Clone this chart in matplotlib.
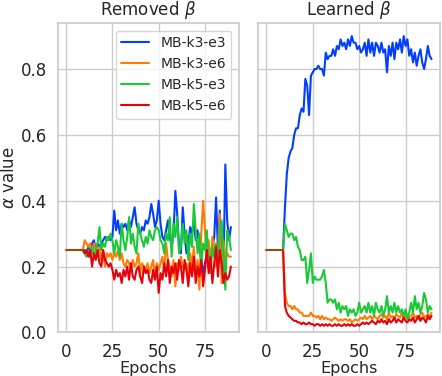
import numpy as np
import matplotlib
matplotlib.use("Agg")
import matplotlib.pyplot as plt
import seaborn as sns

sns.set_theme(style="whitegrid")
plt.rcParams['font.family'] = ['DejaVu Sans']

names = ["MB-k3-e3", "MB-k3-e6", "MB-k5-e3", "MB-k5-e6"]
colors = ["#023eff", "#ff7c00", "#1ac938", "#e8000b"]
warmup_color = "#9f4800"

# warm-up epochs 0..9, every alpha fixed at 0.25
warmup = [0.25] * 10
start_epoch = 9

# ---- Removed beta (epochs 9..89)
removed_k3e3 = [0.25, 0.25, 0.24, 0.26, 0.23, 0.27, 0.28, 0.25, 0.27, 0.26, 0.27, 0.28, 0.29, 0.28, 0.29, 0.28,
                0.29, 0.37, 0.31, 0.34, 0.30, 0.33, 0.32, 0.33, 0.31, 0.34, 0.32, 0.35, 0.38, 0.33, 0.31, 0.30,
                0.32, 0.31, 0.34, 0.33, 0.35, 0.39, 0.36, 0.32, 0.34, 0.40, 0.33, 0.29, 0.28, 0.31, 0.34, 0.29,
                0.26, 0.30, 0.43, 0.36, 0.26, 0.24, 0.38, 0.30, 0.24, 0.27, 0.32, 0.30, 0.34, 0.28, 0.31, 0.26,
                0.22, 0.18, 0.21, 0.24, 0.27, 0.22, 0.26, 0.29, 0.41, 0.25, 0.37, 0.22, 0.19, 0.51, 0.34, 0.28,
                0.32]
removed_k3e6 = [0.25, 0.28, 0.27, 0.26, 0.27, 0.24, 0.27, 0.25, 0.24, 0.26, 0.22, 0.25, 0.20, 0.24, 0.23, 0.24,
                0.22, 0.24, 0.23, 0.25, 0.22, 0.24, 0.21, 0.20, 0.22, 0.21, 0.19, 0.22, 0.20, 0.21, 0.24, 0.18,
                0.21, 0.20, 0.19, 0.21, 0.18, 0.20, 0.22, 0.17, 0.21, 0.19, 0.21, 0.23, 0.19, 0.27, 0.22, 0.20,
                0.17, 0.22, 0.14, 0.21, 0.19, 0.23, 0.20, 0.19, 0.21, 0.18, 0.24, 0.20, 0.26, 0.17, 0.22, 0.13,
                0.30, 0.40, 0.31, 0.22, 0.28, 0.19, 0.29, 0.26, 0.20, 0.24, 0.36, 0.15, 0.28, 0.22, 0.24, 0.23,
                0.23]
removed_k5e3 = [0.25, 0.24, 0.23, 0.25, 0.24, 0.26, 0.23, 0.25, 0.27, 0.32, 0.25, 0.27, 0.26, 0.29, 0.28, 0.30,
                0.28, 0.24, 0.28, 0.26, 0.23, 0.33, 0.28, 0.25, 0.29, 0.35, 0.27, 0.30, 0.26, 0.24, 0.33, 0.30,
                0.28, 0.26, 0.29, 0.27, 0.31, 0.29, 0.28, 0.31, 0.32, 0.31, 0.28, 0.27, 0.24, 0.30, 0.28, 0.35,
                0.23, 0.33, 0.29, 0.35, 0.24, 0.26, 0.33, 0.27, 0.31, 0.22, 0.30, 0.26, 0.39, 0.31, 0.24, 0.30,
                0.20, 0.27, 0.25, 0.31, 0.21, 0.18, 0.26, 0.23, 0.27, 0.20, 0.32, 0.34, 0.23, 0.13, 0.31, 0.29,
                0.25]
removed_k5e6 = [0.25, 0.24, 0.25, 0.23, 0.25, 0.20, 0.24, 0.22, 0.25, 0.21, 0.20, 0.25, 0.22, 0.21, 0.20, 0.21,
                0.19, 0.16, 0.19, 0.17, 0.18, 0.15, 0.19, 0.17, 0.20, 0.16, 0.21, 0.17, 0.16, 0.19, 0.20, 0.17,
                0.15, 0.20, 0.18, 0.19, 0.16, 0.15, 0.19, 0.16, 0.20, 0.12, 0.18, 0.16, 0.21, 0.17, 0.22, 0.15,
                0.20, 0.18, 0.21, 0.16, 0.22, 0.20, 0.15, 0.22, 0.19, 0.14, 0.21, 0.17, 0.23, 0.15, 0.20, 0.17,
                0.22, 0.14, 0.19, 0.25, 0.18, 0.23, 0.15, 0.21, 0.26, 0.17, 0.25, 0.21, 0.15, 0.18, 0.16, 0.17,
                0.20]

# ---- Learned beta (epochs 9..89)
learned_k3e3 = [0.25, 0.38, 0.48, 0.53, 0.55, 0.56, 0.60, 0.62, 0.62, 0.66, 0.68, 0.67, 0.77, 0.75, 0.66, 0.78,
                0.79, 0.80, 0.80, 0.81, 0.80, 0.80, 0.78, 0.85, 0.83, 0.84, 0.84, 0.86, 0.84, 0.87, 0.86, 0.89,
                0.87, 0.88, 0.86, 0.89, 0.87, 0.90, 0.88, 0.88, 0.86, 0.87, 0.85, 0.86, 0.88, 0.84, 0.89, 0.85,
                0.88, 0.84, 0.88, 0.87, 0.85, 0.88, 0.85, 0.86, 0.79, 0.87, 0.84, 0.88, 0.83, 0.88, 0.86, 0.89,
                0.85, 0.90, 0.87, 0.89, 0.84, 0.86, 0.82, 0.85, 0.81, 0.84, 0.86, 0.82, 0.80, 0.83, 0.87, 0.84,
                0.83]
learned_k3e6 = [0.25, 0.12, 0.09, 0.08, 0.08, 0.07, 0.08, 0.07, 0.07, 0.06, 0.06, 0.05, 0.05, 0.05, 0.05, 0.06,
                0.05, 0.05, 0.045, 0.05, 0.04, 0.05, 0.04, 0.045, 0.04, 0.04, 0.035, 0.04, 0.045, 0.04, 0.035, 0.04,
                0.035, 0.04, 0.04, 0.035, 0.04, 0.03, 0.035, 0.04, 0.035, 0.04, 0.045, 0.04, 0.05, 0.04, 0.045, 0.05,
                0.04, 0.05, 0.045, 0.04, 0.05, 0.055, 0.045, 0.05, 0.04, 0.06, 0.045, 0.05, 0.04, 0.055, 0.05, 0.045,
                0.06, 0.04, 0.05, 0.055, 0.045, 0.05, 0.06, 0.045, 0.05, 0.04, 0.055, 0.06, 0.045, 0.05, 0.055, 0.05,
                0.06]
learned_k5e3 = [0.25, 0.33, 0.31, 0.29, 0.30, 0.30, 0.28, 0.29, 0.26, 0.25, 0.22, 0.22, 0.23, 0.15, 0.19, 0.24,
                0.15, 0.17, 0.16, 0.16, 0.16, 0.17, 0.19, 0.15, 0.09, 0.10, 0.10, 0.09, 0.10, 0.07, 0.09, 0.06,
                0.08, 0.07, 0.08, 0.05, 0.07, 0.06, 0.07, 0.05, 0.06, 0.09, 0.06, 0.07, 0.08, 0.06, 0.09, 0.06,
                0.08, 0.05, 0.09, 0.07, 0.06, 0.08, 0.05, 0.07, 0.11, 0.06, 0.08, 0.06, 0.09, 0.06, 0.08, 0.06,
                0.07, 0.05, 0.07, 0.04, 0.06, 0.09, 0.06, 0.11, 0.07, 0.09, 0.06, 0.08, 0.12, 0.10, 0.06, 0.08,
                0.07]
learned_k5e6 = [0.25, 0.08, 0.06, 0.05, 0.045, 0.04, 0.035, 0.035, 0.03, 0.03, 0.025, 0.03, 0.025, 0.025, 0.03, 0.025,
                0.025, 0.02, 0.025, 0.025, 0.02, 0.025, 0.02, 0.025, 0.02, 0.025, 0.02, 0.02, 0.025, 0.02, 0.025, 0.02,
                0.02, 0.025, 0.02, 0.025, 0.02, 0.025, 0.02, 0.02, 0.025, 0.02, 0.025, 0.03, 0.025, 0.03, 0.025, 0.03,
                0.035, 0.03, 0.025, 0.035, 0.03, 0.04, 0.03, 0.035, 0.025, 0.04, 0.03, 0.035, 0.045, 0.03, 0.04, 0.035,
                0.03, 0.045, 0.035, 0.03, 0.04, 0.035, 0.045, 0.03, 0.04, 0.05, 0.035, 0.045, 0.04, 0.03, 0.05, 0.04,
                0.05]

removed = [removed_k3e3, removed_k3e6, removed_k5e3, removed_k5e6]
learned = [learned_k3e3, learned_k3e6, learned_k5e3, learned_k5e6]

fig = plt.figure(figsize=(4.42, 3.76), dpi=100)
ax1 = fig.add_axes([0.131, 0.116, 0.41, 0.823])
ax2 = fig.add_axes([0.584, 0.116, 0.411, 0.823], sharey=ax1)

for ax, series, title in [(ax1, removed, r"Removed $\beta$"), (ax2, learned, r"Learned $\beta$")]:
    for vals, name, c in zip(series, names, colors):
        ax.plot(np.arange(start_epoch, start_epoch + len(vals)), vals, color=c, lw=1.5, label=name)
    ax.plot(np.arange(len(warmup)), warmup, color=warmup_color, lw=1.5)
    ax.set_title(title, fontsize=12, color="#262626")
    ax.set_xlabel("Epochs", fontsize=11.5, color="#262626", labelpad=0)
    ax.set_xticks([0, 25, 50, 75])
    ax.tick_params(labelsize=12, colors="#262626", pad=1.5)

ax1.set_ylim(0, 0.94)
ax1.set_yticks([0.0, 0.2, 0.4, 0.6, 0.8])
ax1.set_ylabel(r"$\alpha$ value", fontsize=12, color="#262626", labelpad=2)
plt.setp(ax2.get_yticklabels(), visible=False)
ax1.legend(loc="upper right", fontsize=10, frameon=True, borderaxespad=0.55)

fig.savefig("out.png", dpi=100)
